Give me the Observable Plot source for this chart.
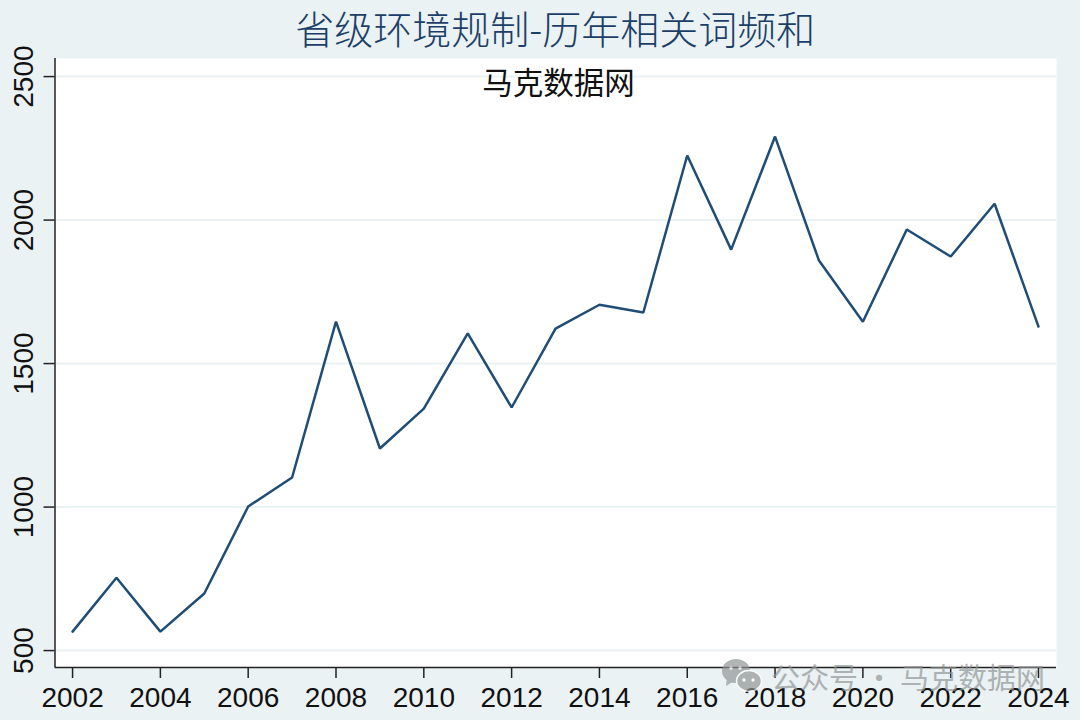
<!DOCTYPE html>
<html lang="zh">
<head>
<meta charset="utf-8">
<script src="https://cdn.jsdelivr.net/npm/d3@7"></script>
<script src="https://cdn.jsdelivr.net/npm/@observablehq/plot@0.6"></script>
<style>
  html, body { margin: 0; padding: 0; background: #eaf2f3; width: 1080px; height: 720px; overflow: hidden; }
  #wrap { position: relative; width: 1080px; height: 720px; }
  #title { position: absolute; left: 54.5px; width: 1001.5px; top: 0; height: 58px; line-height: 55px; text-align: center;
           font-family: "Noto Sans CJK SC", sans-serif; font-weight: 300; font-size: 39px; color: #1c3f68; white-space: nowrap; }
  #chart { position: absolute; left: 0; top: 58px; }
  #chart svg { display: block; background: transparent; }
  #mark { position: absolute; left: 722px; top: 658px; height: 36px; display: flex; align-items: center; gap: 9px;
          font-family: "Noto Sans CJK SC", sans-serif; font-size: 29px; color: #8f9393; opacity: .68; white-space: nowrap; }
</style>
</head>
<body>
<div id="wrap">
  <div id="title"></div>
  <div id="chart"></div>
  <div id="mark"></div>
</div>
<script>
const titleText = "省级环境规制-历年相关词频和";
const noteText = "马克数据网";
const watermarkText = "公众号 · 马克数据网";
const years = [2002,2003,2004,2005,2006,2007,2008,2009,2010,2011,2012,2013,2014,2015,2016,2017,2018,2019,2020,2021,2022,2023,2024];
const counts = [566,754,566,699,1002,1103,1646,1204,1343,1605,1347,1622,1705,1678,2225,1897,2291,1859,1646,1967,1873,2057,1629];
const xTicks = [2002,2004,2006,2008,2010,2012,2014,2016,2018,2020,2022,2024];
const yTicks = [500,1000,1500,2000,2500];
const xDomain = [2001.6, 2024.41];
const yDomain = [441, 2563];

const rows = years.map((year, i) => ({year, count: counts[i]}));
const tickFont = {fontSize: 28, fontFamily: "'Liberation Sans', Arial, sans-serif", fill: "#111"};

document.getElementById("title").textContent = titleText;

const plot = Plot.plot({
  width: 1080,
  height: 662,
  marginLeft: 54.5,
  marginRight: 24,
  marginTop: 0,
  marginBottom: 53,
  style: {background: "transparent", overflow: "visible"},
  x: {domain: xDomain, label: null},
  y: {domain: yDomain, label: null},
  marks: [
    Plot.frame({fill: "white", stroke: "none"}),
    Plot.ruleY(yTicks, {stroke: "#eaf2f3", strokeWidth: 2}),
    Plot.ruleX([xDomain[0]], {stroke: "#222", strokeWidth: 1.5}),
    Plot.ruleY([yDomain[0]], {stroke: "#222", strokeWidth: 1.5}),
    Plot.axisX({ticks: xTicks, tickFormat: d => String(d), tickSize: 11, tickPadding: 9, stroke: "#222", strokeWidth: 1.5, strokeOpacity: 1, label: null, ...tickFont}),
    Plot.axisY({ticks: yTicks, tickFormat: d => String(d), tickSize: 11, tickPadding: 11, tickRotate: -90, textAnchor: "middle", stroke: "#222", strokeWidth: 1.5, strokeOpacity: 1, label: null, ...tickFont}),
    Plot.line(rows, {x: "year", y: "count", stroke: "#1f4d75", strokeWidth: 2.5, strokeLinejoin: "miter", curve: "linear"}),
    Plot.text([noteText], {x: () => 2013.07, y: () => 2472, text: d => d, fontSize: 30.5, fontFamily: "'Noto Sans CJK SC', sans-serif", fill: "#111"})
  ]
});
document.getElementById("chart").appendChild(plot);

const mark = document.getElementById("mark");
mark.innerHTML = `<svg width="40" height="36" viewBox="0 0 40 36"><ellipse cx="14" cy="13" rx="14" ry="12" fill="#8f9393"/><path d="M5 20 L4 28 L12 23Z" fill="#8f9393"/><ellipse cx="27" cy="23" rx="12.5" ry="10.5" fill="#8f9393" stroke="#fff" stroke-width="1.5"/><circle cx="22" cy="22" r="1.7" fill="#fff"/><circle cx="31" cy="22" r="1.7" fill="#fff"/><circle cx="9" cy="10" r="1.8" fill="#fff"/><circle cx="18" cy="10" r="1.8" fill="#fff"/></svg><span></span>`;
mark.querySelector("span").textContent = watermarkText;
</script>
</body>
</html>
